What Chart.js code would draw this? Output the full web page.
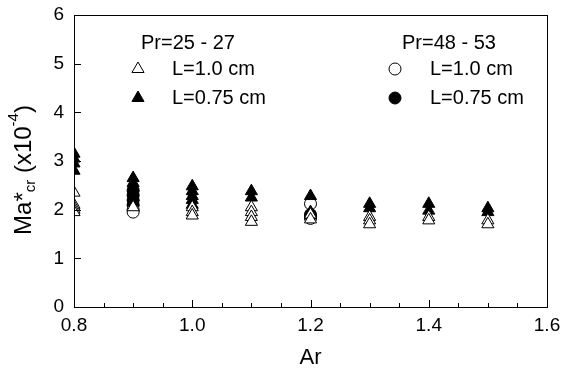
<!DOCTYPE html>
<html>
<head>
<meta charset="utf-8">
<script src="https://cdn.jsdelivr.net/npm/chart.js@4"></script>
<style>
  body { margin: 0; background: #fff; }
  canvas { display: block; }
</style>
</head>
<body>
<canvas id="chart" width="577" height="378"></canvas>
<script>
// Ar values and Ma*cr (x10^-4)
const xTicks = [0.8, 1.0, 1.2, 1.4, 1.6];
const yTicks = [0, 1, 2, 3, 4, 5, 6];

const triOpen = [
  [0.8, 2.35], [0.8, 2.1], [0.8, 2.05], [0.8, 2.0], [0.8, 1.95],
  [0.9, 2.05],
  [1.0, 2.05], [1.0, 1.95], [1.0, 1.88],
  [1.1, 2.05], [1.1, 1.95], [1.1, 1.85], [1.1, 1.75],
  [1.2, 1.9], [1.2, 1.8],
  [1.3, 1.85], [1.3, 1.78], [1.3, 1.7],
  [1.4, 1.85], [1.4, 1.78],
  [1.5, 1.78], [1.5, 1.7]
];
const triFilled = [
  [0.8, 3.15], [0.8, 3.05], [0.8, 2.95], [0.8, 2.8],
  [0.9, 2.65], [0.9, 2.55], [0.9, 2.45], [0.9, 2.35], [0.9, 2.25], [0.9, 2.15],
  [1.0, 2.48], [1.0, 2.38], [1.0, 2.28], [1.0, 2.2], [1.0, 2.1],
  [1.1, 2.38], [1.1, 2.25],
  [1.2, 2.28], [1.2, 1.95], [1.2, 1.88],
  [1.3, 2.12], [1.3, 2.03],
  [1.4, 2.12], [1.4, 1.98],
  [1.5, 2.03], [1.5, 1.95]
];
const circOpen = [[0.9, 2.0], [0.9, 1.95], [1.2, 2.12], [1.2, 1.82]];
const circFilled = [[0.9, 2.4], [0.9, 2.3], [0.9, 2.2], [0.9, 2.1], [1.2, 1.9], [1.2, 1.85]];

const toPts = (arr) => arr.map((p) => ({ x: p[0], y: p[1] }));
const FONT = "'Liberation Sans', Arial, sans-serif";

function series(label, pts, style, filled) {
  return {
    label: label,
    data: toPts(pts),
    pointStyle: style,
    pointRadius: style === "triangle" ? 7 : 6,
    borderWidth: 1,
    borderColor: "#000",
    pointBackgroundColor: filled ? "#000" : "#fff",
    backgroundColor: filled ? "#000" : "#fff",
    showLine: false,
  };
}

// frame, inward ticks, labels, titles and the boxed legend
const decor = {
  id: "decor",
  afterDraw(chart) {
    const ctx = chart.ctx;
    const a = chart.chartArea;
    const xs = chart.scales.x;
    const ys = chart.scales.y;
    ctx.save();
    ctx.strokeStyle = "#000";
    ctx.lineWidth = 1;
    ctx.strokeRect(a.left + 0.5, a.top + 0.5, a.right - a.left, a.bottom - a.top);

    ctx.beginPath();
    for (let v = 0.8; v <= 1.6001; v += 0.05) {
      const px = Math.round(xs.getPixelForValue(v)) + 0.5;
      const major = Math.abs(v * 5 - Math.round(v * 5)) < 1e-6;
      ctx.moveTo(px, a.bottom);
      ctx.lineTo(px, a.bottom - (major ? 7 : 4));
    }
    yTicks.forEach((v) => {
      const py = Math.round(ys.getPixelForValue(v)) + 0.5;
      ctx.moveTo(a.left, py);
      ctx.lineTo(a.left + 7, py);
    });
    ctx.stroke();

    ctx.fillStyle = "#000";
    ctx.font = "19px " + FONT;
    ctx.textAlign = "center";
    ctx.textBaseline = "top";
    xTicks.forEach((v) => {
      ctx.fillText(v.toFixed(1), xs.getPixelForValue(v), a.bottom + 9);
    });
    ctx.textAlign = "right";
    ctx.textBaseline = "middle";
    yTicks.forEach((v) => {
      ctx.fillText(String(v), a.left - 10, ys.getPixelForValue(v));
    });

    ctx.font = "22px " + FONT;
    ctx.textAlign = "center";
    ctx.textBaseline = "middle";
    ctx.fillText("Ar", (a.left + a.right) / 2, 358);

    // y title with subscript and superscript
    ctx.translate(24, 170);
    ctx.rotate(-Math.PI / 2);
    const parts = [
      ["Ma*", 24, 0], ["cr", 15, 7], [" (x10", 24, 0], ["-4", 15, -10], [")", 24, 0]
    ];
    let total = 0;
    parts.forEach((p) => { ctx.font = p[1] + "px " + FONT; total += ctx.measureText(p[0]).width; });
    let cx = -total / 2;
    ctx.textAlign = "left";
    parts.forEach((p) => {
      ctx.font = p[1] + "px " + FONT;
      ctx.fillText(p[0], cx, p[2]);
      cx += ctx.measureText(p[0]).width;
    });
    ctx.restore();

    // legend
    ctx.save();
    ctx.fillStyle = "#000";
    ctx.font = "20px " + FONT;
    ctx.textBaseline = "middle";
    ctx.textAlign = "left";
    const groups = [
      { title: "Pr=25 - 27", tx: 141, mx: 138, lx: 172, sets: [0, 1] },
      { title: "Pr=48 - 53", tx: 402, mx: 395, lx: 430, sets: [2, 3] }
    ];
    groups.forEach((g) => {
      ctx.fillText(g.title, g.tx, 43);
      g.sets.forEach((di, k) => {
        const ds = chart.data.datasets[di];
        const y = 69 + k * 29;
        ctx.fillStyle = ds.pointBackgroundColor;
        ctx.strokeStyle = "#000";
        ctx.lineWidth = 1;
        Chart.helpers.drawPoint(ctx, { pointStyle: ds.pointStyle, radius: ds.pointRadius, borderWidth: 1 }, g.mx, y);
        ctx.fillStyle = "#000";
        ctx.fillText(ds.label, g.lx, y);
      });
    });
    ctx.restore();
  }
};

new Chart(document.getElementById("chart"), {
  type: "scatter",
  data: {
    datasets: [
      series("L=1.0 cm", triOpen, "triangle", false),
      series("L=0.75 cm", triFilled, "triangle", true),
      series("L=1.0 cm", circOpen, "circle", false),
      series("L=0.75 cm", circFilled, "circle", true),
    ],
  },
  options: {
    responsive: false,
    animation: false,
    devicePixelRatio: 1,
    layout: { padding: { left: 66, right: 30, top: 15, bottom: 63 } },
    plugins: { legend: { display: false }, tooltip: { enabled: false } },
    scales: {
      x: {
        type: "linear", min: 0.8, max: 1.6,
        grid: { display: false }, border: { display: false },
        ticks: { display: false }
      },
      y: {
        type: "linear", min: 0, max: 6,
        grid: { display: false }, border: { display: false },
        ticks: { display: false }
      },
    },
  },
  plugins: [decor],
});
</script>
</body>
</html>
